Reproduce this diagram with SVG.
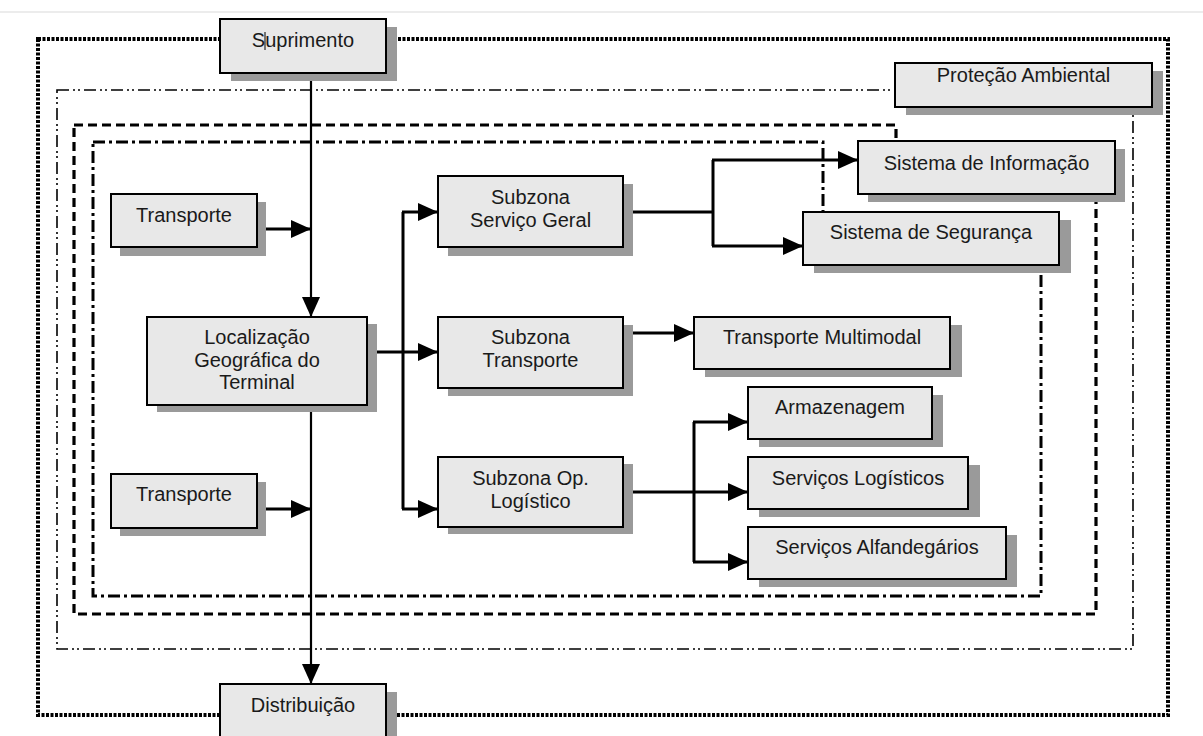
<svg xmlns="http://www.w3.org/2000/svg" width="1203" height="736" viewBox="0 0 1203 736">
<defs>
<marker id="arr" markerUnits="userSpaceOnUse" markerWidth="20" markerHeight="18" refX="20" refY="9" orient="auto" viewBox="0 0 20 18">
<path d="M0,0 L20,9 L0,18 Z" fill="#000"/>
</marker>
<style>
.bg{fill:#fff}
.shadow{fill:#9a9a9a}
.box{fill:#e8e8e8;stroke:#000;stroke-width:2}
.t{font-family:"Liberation Sans",Arial,sans-serif;font-size:20px;fill:#1a1a1a;text-anchor:middle}
.c{fill:none;stroke:#000;stroke-width:3}
.ca{fill:none;stroke:#000;stroke-width:3;marker-end:url(#arr)}
.main{fill:none;stroke:#000;stroke-width:2.2;marker-end:url(#arr)}
.b1{fill:none;stroke:#000;stroke-width:4;stroke-dasharray:3 1.5}
.b2{fill:none;stroke:#000;stroke-width:1.6;stroke-dasharray:12 4 2 3 2 4}
.b3{fill:none;stroke:#000;stroke-width:3.2;stroke-dasharray:9 5}
.b4{fill:none;stroke:#000;stroke-width:3;stroke-dasharray:12 4 3 4}
</style>
</defs>
<rect class="bg" x="0" y="0" width="1203" height="736"/>
<line x1="0" y1="12" x2="1203" y2="12" stroke="#e6e6e6" stroke-width="1.5"/>
<g id="borders">
<rect class="b1" x="38" y="39" width="1130" height="676"/>
<rect class="b2" x="57" y="90" width="1076" height="559"/>
<path class="b3" d="M74,125 H896 V175 H1096 V614 H74 Z"/>
<path class="b4" d="M93,142 H823 V230 H1041 V596 H93 Z"/>
</g>
<g id="connectors">
<path class="main" d="M311,73 V317"/>
<path class="main" d="M311,405 V684"/>
<path class="ca" d="M266,229 H311"/>
<path class="ca" d="M266,509 H311"/>
<path class="ca" d="M377,352 H438"/>
<path class="c" d="M403,212 V509"/>
<path class="ca" d="M402,212 H438"/>
<path class="ca" d="M402,509 H438"/>
<path class="c" d="M633,212 H713"/>
<path class="c" d="M713,160 V246"/>
<path class="ca" d="M712,160 H858"/>
<path class="ca" d="M712,246 H803"/>
<path class="ca" d="M621,333 H694"/>
<path class="ca" d="M633,492 H748"/>
<path class="c" d="M694,422 V562"/>
<path class="ca" d="M693,422 H748"/>
<path class="ca" d="M693,562 H748"/>
</g>
<g id="suprimento">
<rect class="shadow" x="231" y="27" width="166" height="54"/>
<rect class="box" x="220" y="19" width="166" height="54"/>
<text class="t" x="303" y="47">Suprimento</text>
<line x1="265" y1="32" x2="265" y2="50" stroke="#000" stroke-width="1"/>
</g>
<g id="protecao">
<rect class="shadow" x="906" y="71" width="257" height="44"/>
<rect class="box" x="895" y="63" width="257" height="44"/>
<text class="t" x="1023.5" y="82">Proteção Ambiental</text>
</g>
<g id="transporte1">
<rect class="shadow" x="120" y="202" width="146" height="54"/>
<rect class="box" x="111" y="194" width="146" height="53"/>
<text class="t" x="184" y="222">Transporte</text>
</g>
<g id="localizacao">
<rect class="shadow" x="157" y="324" width="220" height="88"/>
<rect class="box" x="147" y="317" width="220" height="88"/>
<text class="t" x="257" y="344">Localização</text>
<text class="t" x="257" y="366.5">Geográfica do</text>
<text class="t" x="257" y="389">Terminal</text>
</g>
<g id="transporte2">
<rect class="shadow" x="120" y="482" width="146" height="54"/>
<rect class="box" x="111" y="474" width="146" height="54"/>
<text class="t" x="184" y="501">Transporte</text>
</g>
<g id="subzona-servico">
<rect class="shadow" x="448" y="184" width="185" height="72"/>
<rect class="box" x="438" y="176" width="185" height="71"/>
<text class="t" x="530.5" y="204">Subzona</text>
<text class="t" x="530.5" y="227">Serviço Geral</text>
</g>
<g id="subzona-transporte">
<rect class="shadow" x="448" y="325" width="185" height="71"/>
<rect class="box" x="438" y="317" width="185" height="71"/>
<text class="t" x="530.5" y="344">Subzona</text>
<text class="t" x="530.5" y="367">Transporte</text>
</g>
<g id="subzona-op">
<rect class="shadow" x="448" y="464" width="185" height="70"/>
<rect class="box" x="438" y="457" width="185" height="70"/>
<text class="t" x="530.5" y="484.5">Subzona Op.</text>
<text class="t" x="530.5" y="507.5">Logístico</text>
</g>
<g id="sistema-informacao">
<rect class="shadow" x="868" y="149" width="257" height="53"/>
<rect class="box" x="858" y="141" width="257" height="53"/>
<text class="t" x="986.5" y="170">Sistema de Informação</text>
</g>
<g id="sistema-seguranca">
<rect class="shadow" x="814" y="220" width="257" height="53"/>
<rect class="box" x="803" y="212" width="256" height="53"/>
<text class="t" x="931" y="239">Sistema de Segurança</text>
</g>
<g id="transporte-multimodal">
<rect class="shadow" x="705" y="325" width="257" height="52"/>
<rect class="box" x="694" y="317" width="256" height="52"/>
<text class="t" x="822" y="344">Transporte Multimodal</text>
</g>
<g id="armazenagem">
<rect class="shadow" x="759" y="395" width="184" height="52"/>
<rect class="box" x="748" y="387" width="184" height="52"/>
<text class="t" x="840" y="414">Armazenagem</text>
</g>
<g id="servicos-logisticos">
<rect class="shadow" x="759" y="465" width="221" height="52"/>
<rect class="box" x="748" y="457" width="220" height="52"/>
<text class="t" x="858" y="485">Serviços Logísticos</text>
</g>
<g id="servicos-alfandegarios">
<rect class="shadow" x="759" y="535" width="258" height="52"/>
<rect class="box" x="748" y="527" width="258" height="52"/>
<text class="t" x="877" y="554">Serviços Alfandegários</text>
</g>
<g id="distribuicao">
<rect class="shadow" x="231" y="692" width="166" height="54"/>
<rect class="box" x="220" y="684" width="166" height="54"/>
<text class="t" x="303" y="712">Distribuição</text>
</g>
</svg>
